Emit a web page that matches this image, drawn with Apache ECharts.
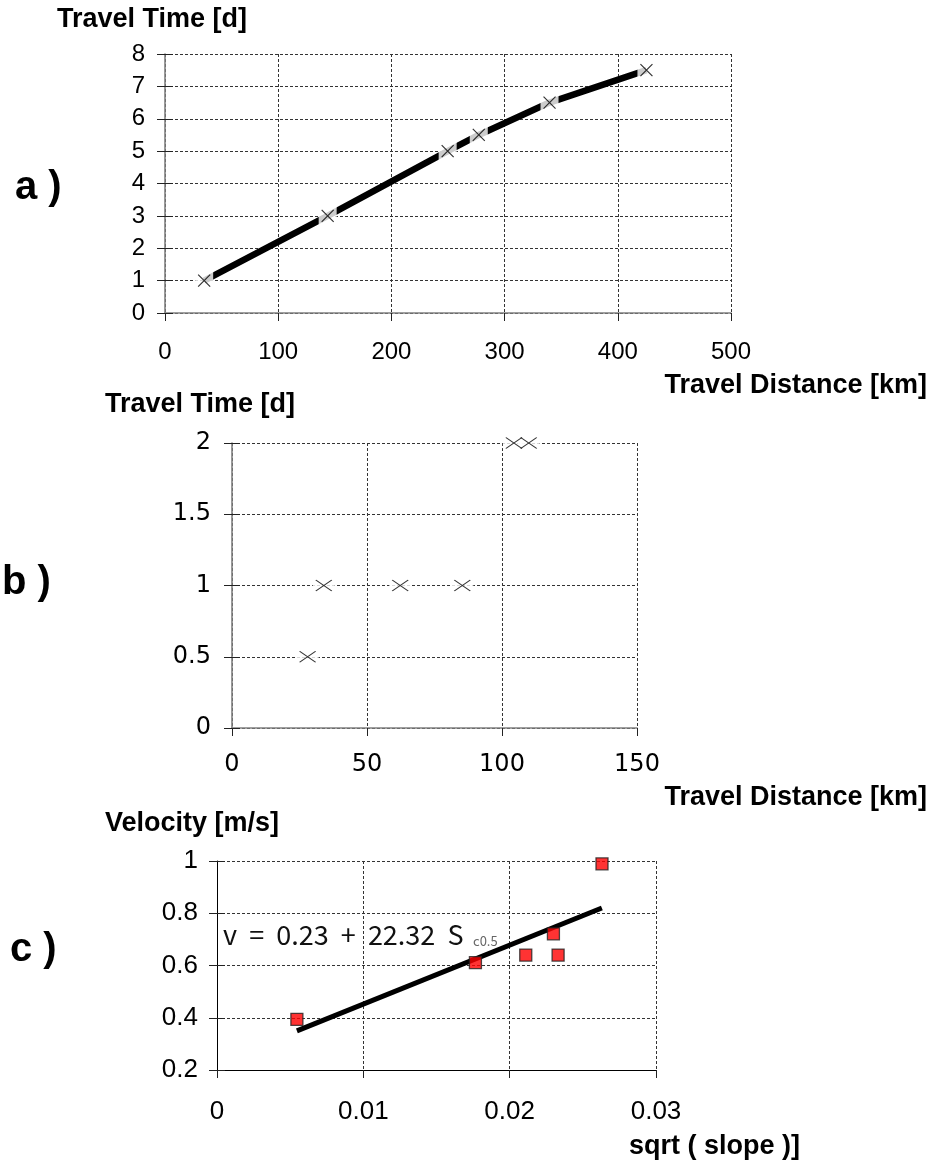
<!DOCTYPE html>
<html>
<head>
<meta charset="utf-8">
<script src="https://cdn.jsdelivr.net/npm/echarts/dist/echarts.min.js"></script>
<style>
html,body{margin:0;padding:0;background:#fff;}
#chart{width:931px;height:1166px;}
</style>
</head>
<body>
<div id="chart"></div>
<script>
// ---- Data ----
const aDistance = [34.6, 143.7, 249.7, 277.2, 339.7, 425.3];
const aTime = [1, 3, 5, 5.5, 6.5, 7.5];

const bDistance = [28, 34, 62.3, 85.3, 104.4, 109.9];
const bTime = [0.5, 1, 1, 1, 2, 2];

const cSlope = [0.00546, 0.01766, 0.0211, 0.02299, 0.02331, 0.02631];
const cVelocity = [0.394, 0.611, 0.640, 0.721, 0.640, 0.989];
const cFitSlope = [0.00546, 0.0263];
const cFitVelocity = [0.35, 0.82];

// axis ranges [min, max, interval]
const aXRange = [0, 500, 100];
const aYRange = [0, 8, 1];
const bXRange = [0, 150, 50];
const bYRange = [0, 2, 0.5];
const cXRange = [0, 0.03, 0.01];
const cYRange = [0.2, 1, 0.2];

const panelLetters = ['a )', 'b )', 'c )'];
const axisTitles = ['Travel Time [d]', 'Travel Distance [km]', 'Travel Time [d]', 'Travel Distance [km]', 'Velocity [m/s]', 'sqrt ( slope )]'];
const equationText = 'v  =  0.23  +  22.32  S';
const equationSub = 'c0.5';

function pairs(xs, ys) { return xs.map((x, i) => [x, ys[i]]); }
const fmt = v => String(+(+v).toFixed(4));

const XPATH = 'path://M0,0L10,10M10,0L0,10';
const grid = [
  {left: 165, top: 54, width: 566, height: 259},
  {left: 232, top: 443, width: 405, height: 285},
  {left: 217, top: 861, width: 439, height: 209}
];
const dashed = {show: true, lineStyle: {type: [3, 2], color: '#333', width: 1}};

function mkX(gi, r, font, size, margin, lineColor) {
  return {
    type: 'value', gridIndex: gi, min: r[0], max: r[1], interval: r[2],
    axisLine: {show: true, onZero: false, lineStyle: {color: lineColor, width: lineColor === '#000' ? 1 : 1.6}},
    axisTick: {show: true, length: 8, lineStyle: {color: '#222', width: 1}},
    axisLabel: {fontSize: size, fontFamily: font, color: '#000', margin: margin, formatter: fmt},
    splitLine: dashed
  };
}
function mkY(gi, r, font, size, margin, lineColor) {
  return {
    type: 'value', gridIndex: gi, min: r[0], max: r[1], interval: r[2], position: 'left',
    axisLine: {show: true, onZero: false, lineStyle: {color: lineColor, width: lineColor === '#000' ? 1 : 1.6}},
    axisTick: {show: true, length: 8, lineStyle: {color: '#222', width: 1}},
    axisLabel: {fontSize: size, fontFamily: font, color: '#000', margin: margin, formatter: fmt},
    splitLine: dashed
  };
}
function mkYInner(gi, r) {
  return {
    type: 'value', gridIndex: gi, min: r[0], max: r[1], interval: r[2], position: 'left',
    axisLine: {show: false}, axisTick: {show: true, inside: true, length: 8, lineStyle: {color: '#222', width: 1}},
    axisLabel: {show: false}, splitLine: {show: false}
  };
}

const LS = 'Liberation Sans, Arial, sans-serif';
const DV = 'DejaVu Sans, sans-serif';

const option = {
  animation: false,
  backgroundColor: '#fff',
  grid: grid,
  xAxis: [
    mkX(0, aXRange, LS, 24, 27, '#808080'),
    mkX(1, bXRange, DV, 24, 25, '#808080'),
    mkX(2, cXRange, LS, 26, 29, '#000')
  ],
  yAxis: [
    mkY(0, aYRange, LS, 24, 20, '#808080'),
    mkYInner(0, aYRange),
    mkY(1, bYRange, DV, 24, 21, '#808080'),
    mkYInner(1, bYRange),
    mkY(2, cYRange, LS, 26, 19, '#000'),
    mkYInner(2, cYRange)
  ],
  series: [
    // panel a
    {type: 'line', xAxisIndex: 0, yAxisIndex: 0, data: pairs(aDistance, aTime), showSymbol: false,
     lineStyle: {color: '#000', width: 6.5}, z: 2, silent: true},
    {type: 'scatter', xAxisIndex: 0, yAxisIndex: 0, data: pairs(aDistance, aTime), symbol: 'rect',
     symbolSize: 18, itemStyle: {color: '#fff'}, z: 3, silent: true},
    {type: 'scatter', xAxisIndex: 0, yAxisIndex: 0, data: pairs(aDistance, aTime), symbol: XPATH,
     symbolSize: 12, itemStyle: {color: 'rgba(0,0,0,0)', borderColor: '#000', borderWidth: 1.2}, z: 4, silent: true},
    // panel b
    {type: 'scatter', xAxisIndex: 1, yAxisIndex: 2, data: pairs(bDistance, bTime), symbol: 'rect',
     symbolSize: [22, 12], itemStyle: {color: '#fff'}, z: 3, silent: true},
    {type: 'scatter', xAxisIndex: 1, yAxisIndex: 2, data: pairs(bDistance, bTime), symbol: XPATH,
     symbolSize: [16, 11], itemStyle: {color: 'rgba(0,0,0,0)', borderColor: '#000', borderWidth: 1.2}, z: 4, silent: true},
    // panel c
    {type: 'line', xAxisIndex: 2, yAxisIndex: 4, data: pairs(cFitSlope, cFitVelocity), showSymbol: false,
     lineStyle: {color: '#000', width: 5}, z: 2, silent: true},
    {type: 'scatter', xAxisIndex: 2, yAxisIndex: 4, data: pairs(cSlope, cVelocity), symbol: 'rect',
     symbolSize: 12, itemStyle: {color: '#ff0000', borderColor: '#222', borderWidth: 1.3}, z: 4, silent: true}
  ],
  graphic: [
    {type: 'text', x: 57, y: 20, style: {text: axisTitles[0], fontSize: 27, fontWeight: 'bold', fontFamily: LS, fill: '#000', align: 'left', verticalAlign: 'middle'}},
    {type: 'text', x: 927, y: 386, style: {text: axisTitles[1], fontSize: 27, fontWeight: 'bold', fontFamily: LS, fill: '#000', align: 'right', verticalAlign: 'middle'}},
    {type: 'text', x: 105, y: 405, style: {text: axisTitles[2], fontSize: 27, fontWeight: 'bold', fontFamily: LS, fill: '#000', align: 'left', verticalAlign: 'middle'}},
    {type: 'text', x: 927, y: 798, style: {text: axisTitles[3], fontSize: 27, fontWeight: 'bold', fontFamily: LS, fill: '#000', align: 'right', verticalAlign: 'middle'}},
    {type: 'text', x: 105, y: 824, style: {text: axisTitles[4], fontSize: 27, fontWeight: 'bold', fontFamily: LS, fill: '#000', align: 'left', verticalAlign: 'middle'}},
    {type: 'text', x: 800, y: 1147, style: {text: axisTitles[5], fontSize: 27, fontWeight: 'bold', fontFamily: LS, fill: '#000', align: 'right', verticalAlign: 'middle'}},
    {type: 'text', x: 15, y: 188, style: {text: panelLetters[0], fontSize: 40, fontWeight: 'bold', fontFamily: LS, fill: '#000', align: 'left', verticalAlign: 'middle'}},
    {type: 'text', x: 2, y: 583, style: {text: panelLetters[1], fontSize: 40, fontWeight: 'bold', fontFamily: LS, fill: '#000', align: 'left', verticalAlign: 'middle'}},
    {type: 'text', x: 10, y: 950, style: {text: panelLetters[2], fontSize: 40, fontWeight: 'bold', fontFamily: LS, fill: '#000', align: 'left', verticalAlign: 'middle'}},
    {type: 'text', x: 223, y: 935, z: 10, style: {text: equationText, fontSize: 27, fontFamily: 'Noto Sans CJK JP, sans-serif', fill: '#111', align: 'left', verticalAlign: 'middle'}},
    {type: 'text', x: 473, y: 941, z: 10, style: {text: equationSub, fontSize: 13, fontFamily: 'Noto Sans CJK JP, sans-serif', fill: '#666', align: 'left', verticalAlign: 'middle'}}
  ]
};

const chart = echarts.init(document.getElementById('chart'), null, {renderer: 'canvas'});
chart.setOption(option);
</script>
</body>
</html>
